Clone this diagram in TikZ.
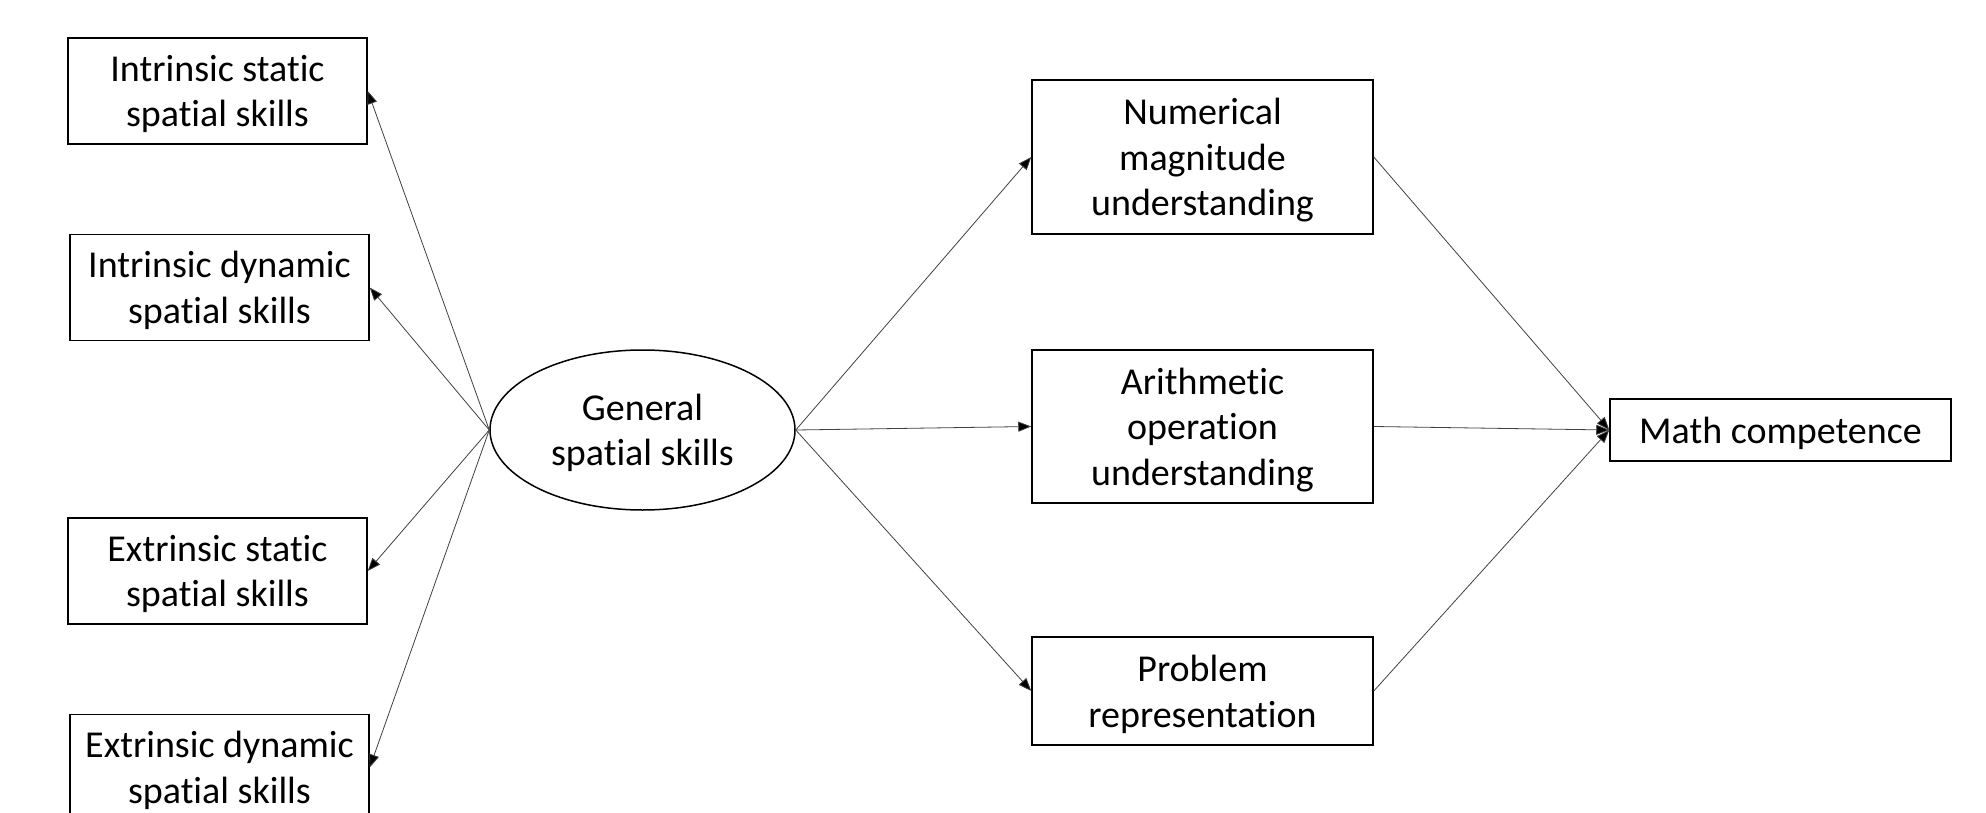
\documentclass[tikz,border=0pt]{standalone}
\usepackage{fontspec}
\setmainfont{Carlito}[RawFeature=-liga]
\usetikzlibrary{shapes.geometric, arrows.meta, positioning}

\tikzset{
  skillbox/.style={rectangle, draw, line width=0.75pt, align=center,
    minimum width=149.5pt, minimum height=53pt, inner sep=0pt},
  mathbox/.style={rectangle, draw, line width=0.75pt, align=center,
    minimum width=170.5pt, inner sep=0pt},
  latent/.style={ellipse, draw, line width=0.75pt, align=center,
    minimum width=152.5pt, minimum height=80pt, inner sep=0pt},
  path/.style={draw=black!75, line width=0.4pt,
    -{Triangle[length=6.5pt, width=5pt, fill=black]}}
}

\begin{document}
\begin{tikzpicture}[x=0.5pt, y=-0.5pt,
    font=\fontsize{19}{22.8}\selectfont, text depth=0pt]
  \useasboundingbox (0,0) rectangle (1986,813);

  % spatial skills
  \node[skillbox] (instat) at (217.5,91) {Intrinsic static\\spatial skills};
  \node[skillbox] (indyn) at (219.5,287.5) {Intrinsic dynamic\\spatial skills};
  \node[skillbox] (exstat) at (217.5,571) {Extrinsic static\\spatial skills};
  \node[skillbox] (exdyn) at (219.5,767.5) {Extrinsic dynamic\\spatial skills};
  \node[latent] (general) at (642.5,430) {General\\spatial skills};

  % mediators
  \node[mathbox, minimum height=77pt] (magnitude) at (1202.5,157)
    {Numerical\\magnitude\\understanding};
  \node[mathbox, minimum height=76.5pt] (operation) at (1202.5,426.5)
    {Arithmetic\\operation\\understanding};
  \node[mathbox, minimum height=54pt] (problem) at (1202.5,691)
    {Problem\\representation};
  \node[mathbox, minimum height=31pt] (math) at (1780.5,430) {Math competence};

  % paths
  \foreach \n in {instat, indyn, exstat, exdyn}
    \draw[path] (general.west) -- (\n.east);
  \foreach \n in {magnitude, operation, problem} {
    \draw[path] (general.east) -- (\n.west);
    \draw[path] (\n.east) -- (math.west);
  }
\end{tikzpicture}
\end{document}
